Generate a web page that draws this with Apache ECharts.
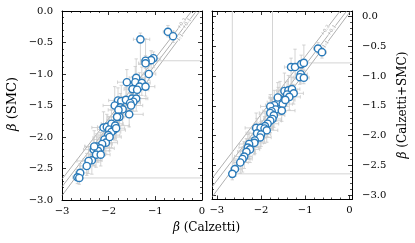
<!DOCTYPE html>
<html><head><meta charset="utf-8">
<script src="https://cdn.jsdelivr.net/npm/echarts@6/dist/echarts.min.js"></script>
<style>html,body{margin:0;padding:0;background:#fff}#c{width:415px;height:243px}</style>
</head><body><div id="c"></div>
<script>
// ---------- DATA ----------
// Left panel: beta (Calzetti) vs beta (SMC)
const smcBetaCalz = [-0.73,-0.62,-1.32,-1.04,-1.09,-1.21,-1.21,-1.14,-1.41,-1.61,-1.43,-1.29,-1.34,-1.21,-1.49,-1.39,-1.80,-1.73,-1.63,-1.50,-1.41,-1.47,-1.54,-1.87,-1.75,-1.70,-1.79,-1.77,-1.82,-1.56,-1.52,-2.11,-2.04,-1.94,-1.86,-1.99,-1.89,-1.94,-1.84,-2.01,-2.09,-2.06,-2.14,-2.26,-2.18,-2.32,-2.23,-2.27,-2.36,-2.43,-2.47,-2.61,-2.67,-2.63,-1.98,-2.31,-2.17];
const smcBeta     = [-0.33,-0.40,-0.45,-0.75,-0.78,-0.79,-0.83,-1.00,-1.06,-1.13,-1.13,-1.14,-1.20,-1.20,-1.24,-1.25,-1.42,-1.43,-1.41,-1.39,-1.39,-1.44,-1.46,-1.50,-1.53,-1.56,-1.57,-1.68,-1.68,-1.64,-1.50,-1.85,-1.84,-1.79,-1.82,-1.88,-1.89,-1.92,-1.86,-1.97,-2.04,-2.09,-2.11,-2.15,-2.18,-2.20,-2.22,-2.28,-2.37,-2.38,-2.46,-2.57,-2.64,-2.65,-2.00,-2.15,-2.28];
const smcXErrLo = [0.10,0.08,0.15,0.12,0.10,0.10,0.15,0.12,0.15,0.20,0.15,0.12,0.20,0.15,0.18,0.15,0.20,0.15,0.25,0.20,0.15,0.20,0.18,0.25,0.20,0.15,0.22,0.18,0.20,0.15,0.20,0.25,0.20,0.22,0.18,0.25,0.20,0.15,0.20,0.22,0.25,0.20,0.18,0.25,0.20,0.22,0.20,0.15,0.20,0.25,0.15,0.10,0.10,0.08,0.20,0.20,0.22];
const smcXErrHi = [0.12,0.10,0.20,0.15,0.12,1.50,0.10,0.15,0.18,0.15,0.20,0.18,0.15,0.20,0.15,0.25,0.15,0.20,0.20,0.30,0.25,0.15,0.22,0.15,0.25,0.20,0.18,0.25,0.15,0.30,0.25,0.20,0.22,0.25,0.30,0.20,0.25,0.20,0.18,0.25,0.20,0.25,0.22,0.20,0.30,0.18,0.25,0.20,0.22,0.20,0.18,0.15,0.12,3.00,0.25,0.22,0.20];
const smcYErrLo = [0.08,0.10,0.40,0.15,0.20,0.12,0.15,0.10,0.20,0.25,0.15,0.20,0.18,0.15,0.30,0.20,0.25,0.20,0.15,0.25,0.20,0.15,0.20,0.20,0.18,0.25,0.20,0.15,0.22,0.20,0.15,0.20,0.25,0.18,0.20,0.22,0.15,0.25,0.20,0.20,0.25,0.18,0.20,0.22,0.20,0.25,0.18,0.20,0.22,0.20,0.15,0.12,0.10,0.10,0.22,0.20,0.18];
const smcYErrHi = [0.10,0.08,0.10,0.10,0.15,0.35,0.12,0.15,0.30,0.20,0.25,0.25,0.22,0.20,0.20,0.15,0.20,0.25,0.20,0.15,0.18,0.25,0.15,0.30,0.22,0.20,0.15,0.25,0.18,0.15,0.20,0.25,0.20,0.22,0.15,0.20,0.25,0.18,0.22,0.25,0.20,0.22,0.25,0.20,0.25,0.20,0.22,0.18,0.25,0.22,0.20,0.15,0.12,0.10,0.18,0.25,0.22];

// Right panel: beta (Calzetti) vs beta (Calzetti+SMC)
const mixBetaCalz = [-0.71,-0.62,-1.32,-1.23,-1.09,-1.03,-1.10,-1.12,-1.03,-1.47,-1.38,-1.30,-1.26,-1.41,-1.36,-1.57,-1.61,-1.51,-1.70,-1.79,-1.67,-1.53,-1.76,-1.79,-1.71,-1.74,-1.79,-1.85,-1.91,-2.11,-2.01,-1.92,-1.87,-2.09,-2.00,-2.02,-2.14,-2.15,-2.27,-2.30,-2.25,-2.33,-2.38,-2.42,-2.47,-2.59,-2.65,-1.62,-1.45];
const mixBeta     = [-0.54,-0.60,-0.85,-0.85,-0.80,-0.78,-0.97,-1.02,-1.03,-1.25,-1.24,-1.22,-1.29,-1.31,-1.35,-1.39,-1.44,-1.47,-1.49,-1.51,-1.56,-1.58,-1.59,-1.62,-1.66,-1.72,-1.75,-1.80,-1.84,-1.87,-1.87,-1.88,-1.91,-1.96,-1.98,-2.03,-2.08,-2.12,-2.14,-2.20,-2.23,-2.27,-2.35,-2.39,-2.45,-2.56,-2.64,-1.36,-1.40];
const mixXErrLo = [0.10,0.08,0.15,0.12,0.10,0.10,0.12,0.15,0.10,0.18,0.15,0.12,0.15,0.20,0.15,0.20,0.25,0.18,0.20,0.22,0.15,0.18,0.20,0.25,0.18,0.20,0.22,0.20,0.25,0.25,0.20,0.22,0.18,0.25,0.20,0.22,0.20,0.25,0.22,0.20,0.18,0.20,0.22,0.20,0.15,0.10,0.08,0.20,0.18];
const mixXErrHi = [0.12,0.10,0.20,0.10,0.12,1.20,0.15,0.18,0.12,0.15,0.20,0.18,0.22,0.15,0.25,0.18,0.20,0.22,0.25,0.18,0.20,0.30,0.22,0.20,0.25,0.20,0.25,0.25,0.20,0.22,0.25,0.20,0.25,0.20,0.22,0.25,0.18,0.20,0.20,0.25,0.22,0.20,0.18,0.22,0.18,0.15,3.00,0.18,0.22];
const mixYErrLo = [0.08,0.10,0.30,0.20,0.20,0.12,0.15,0.12,0.10,0.25,0.20,0.15,0.18,0.20,0.22,0.25,0.20,0.15,0.22,0.25,0.20,0.18,0.22,0.18,0.20,0.18,0.20,0.22,0.20,0.22,0.20,0.25,0.20,0.22,0.20,0.18,0.22,0.20,0.25,0.20,0.22,0.18,0.20,0.22,0.18,0.12,0.10,0.20,0.20];
const mixYErrHi = [0.10,0.08,0.15,0.30,0.15,0.30,0.12,0.15,0.12,0.30,0.25,0.20,0.15,0.22,0.18,0.30,0.25,0.20,0.25,0.20,0.22,0.15,0.20,0.25,0.22,2.00,0.22,0.20,0.25,0.25,0.22,0.20,0.18,0.25,0.22,0.20,0.25,0.22,0.20,0.22,0.18,0.22,0.25,0.20,0.20,0.15,3.00,0.25,0.18];

// Reference lines (data endpoints) and their labels
const smcLineHi  = [[-3, -2.67], [-0.22, 0]];
const smcLineMid = [[-3, -2.79], [-0.12, 0]];
const smcLineOne = [[-3, -2.93], [-0.045, 0]];
const mixLineHi  = [[-3.11, -2.72], [-0.21, 0.09]];
const mixLineMid = [[-3.11, -2.86], [-0.06, 0.09]];
const mixLineOne = [[-3.11, -3.03], [0.03, 0.09]];
const lineLabels = ['+0.3', '+0.1', '1:1'];
const smcLabelPos = [[-0.43, -0.2], [-0.326, -0.2], [-0.469, -0.42]];
const mixLabelPos = [[-0.545, -0.235], [-0.396, -0.235], [-0.533, -0.47]];

// Axes
const xTicks = [-3, -2, -1, 0];
const yTicks = [0, -0.5, -1, -1.5, -2, -2.5, -3];
const smcXRange = [-3, 0], smcYRange = [-3, 0];
const mixXRange = [-3.11, 0.06], mixYRange = [-3.07, 0.09];

// ---------- CHART ----------
const FONT = '"DejaVu Serif", serif';
const BLUE = '#2a7ab9';
const ERR = '#c9c9c9';
const MINUS = '\u2212';

function minorList(range, step, per) {
  const out = [];
  const k0 = Math.ceil(range[0] / step - 1e-9), k1 = Math.floor(range[1] / step + 1e-9);
  for (let k = k0; k <= k1; k++) {
    if (k % per === 0) continue;
    out.push(Math.round(k * step * 100) / 100);
  }
  return out;
}
const fmtX = v => (Math.abs(v) < 1e-9 ? '0' : (v < 0 ? MINUS : '') + Math.abs(v).toString());
const fmtY = v => (Math.abs(v) < 1e-9 ? '0.0' : (v < 0 ? MINUS : '') + Math.abs(v).toFixed(1));

function axisSet(kind, gridIndex, range, majors, minors, labelSide, fmt, margin) {
  const dirs = kind === 'x' ? ['bottom', 'top'] : ['left', 'right'];
  const out = [];
  dirs.forEach(pos => {
    out.push({
      type: 'value', gridIndex, position: pos, min: range[0], max: range[1],
      axisLine: { show: true, onZero: false, lineStyle: { color: '#000', width: 1 } },
      axisTick: { show: true, inside: true, length: 4, customValues: majors, lineStyle: { color: '#000', width: 0.8 } },
      splitLine: { show: false },
      axisLabel: { show: pos === labelSide, customValues: majors, formatter: fmt, margin, color: '#000', fontFamily: FONT, fontSize: 10 },
      axisPointer: { show: false }
    });
    out.push({
      type: 'value', gridIndex, position: pos, min: range[0], max: range[1],
      axisLine: { show: false, onZero: false },
      axisTick: { show: true, inside: true, length: 2, customValues: minors, lineStyle: { color: '#000', width: 0.7 } },
      splitLine: { show: false },
      axisLabel: { show: false },
      axisPointer: { show: false }
    });
  });
  return out;
}

function errRender(params, api) {
  const x = api.value(0), y = api.value(1);
  const xl = api.value(2), xh = api.value(3), yl = api.value(4), yh = api.value(5);
  const cs = params.coordSys;
  const L = cs.x, R = cs.x + cs.width, T = cs.y, B = cs.y + cs.height;
  const c = api.coord([x, y]);
  const p1 = api.coord([x - xl, y]), p2 = api.coord([x + xh, y]);
  const q1 = api.coord([x, y - yl]), q2 = api.coord([x, y + yh]);
  const cx = v => Math.max(L, Math.min(R, v));
  const cy = v => Math.max(T, Math.min(B, v));
  const st = { stroke: ERR, lineWidth: 0.8 };
  const cap = 1.7;
  const ch = [];
  ch.push({ type: 'line', shape: { x1: cx(p1[0]), y1: c[1], x2: cx(p2[0]), y2: c[1] }, style: st });
  ch.push({ type: 'line', shape: { x1: c[0], y1: cy(q1[1]), x2: c[0], y2: cy(q2[1]) }, style: st });
  [p1, p2].forEach(p => {
    if (p[0] >= L && p[0] <= R) ch.push({ type: 'line', shape: { x1: p[0], y1: c[1] - cap, x2: p[0], y2: c[1] + cap }, style: st });
  });
  [q1, q2].forEach(q => {
    if (q[1] >= T && q[1] <= B) ch.push({ type: 'line', shape: { x1: c[0] - cap, y1: q[1], x2: c[0] + cap, y2: q[1] }, style: st });
  });
  return { type: 'group', children: ch };
}

function panelSeries(axisIdx, xs, ys, xlo, xhi, ylo, yhi, lines, labelPos) {
  const s = [];
  lines.forEach(l => s.push({
    type: 'line', xAxisIndex: axisIdx, yAxisIndex: axisIdx, data: l, symbol: 'none', silent: true,
    lineStyle: { color: '#8c8c8c', width: 0.7 }, z: 1, animation: false
  }));
  s.push({
    type: 'custom', xAxisIndex: axisIdx, yAxisIndex: axisIdx, renderItem: errRender, silent: true, z: 2,
    encode: { x: 0, y: 1 }, animation: false,
    data: xs.map((v, i) => [v, ys[i], xlo[i], xhi[i], ylo[i], yhi[i]])
  });
  s.push({
    type: 'scatter', xAxisIndex: axisIdx, yAxisIndex: axisIdx, z: 3, silent: true, animation: false,
    symbol: 'circle', symbolSize: 7.2,
    itemStyle: { color: '#fff', borderColor: BLUE, borderWidth: 1.4, opacity: 1 },
    data: xs.map((v, i) => [v, ys[i]])
  });
  s.push({
    type: 'scatter', xAxisIndex: axisIdx, yAxisIndex: axisIdx, z: 4, silent: true, animation: false,
    symbolSize: 1, itemStyle: { color: 'transparent' },
    data: labelPos.map((p, i) => ({ value: p, name: lineLabels[i] })),
    label: { show: true, position: 'inside', formatter: p => p.name, rotate: 53.5, fontSize: 5, color: '#8c8c8c',
             fontFamily: FONT, backgroundColor: '#fff', padding: 0 }
  });
  return s;
}

const xAxes = [].concat(
  axisSet('x', 0, smcXRange, xTicks, minorList(smcXRange, 0.2, 5), 'bottom', fmtX, 6),
  axisSet('x', 1, mixXRange, xTicks, minorList(mixXRange, 0.2, 5), 'bottom', fmtX, 6)
);
const yAxes = [].concat(
  axisSet('y', 0, smcYRange, yTicks, minorList(smcYRange, 0.1, 5), 'left', fmtY, 9),
  axisSet('y', 1, mixYRange, yTicks, minorList(mixYRange, 0.1, 5), 'right', fmtY, 10)
);

const option = {
  animation: false,
  backgroundColor: '#fff',
  textStyle: { fontFamily: FONT },
  grid: [
    { left: 62, top: 11, width: 140, height: 189 },
    { left: 212, top: 11, width: 140, height: 188.5 }
  ],
  xAxis: xAxes,
  yAxis: yAxes,
  series: [].concat(
    panelSeries(0, smcBetaCalz, smcBeta, smcXErrLo, smcXErrHi, smcYErrLo, smcYErrHi, [smcLineHi, smcLineMid, smcLineOne], smcLabelPos),
    panelSeries(4, mixBetaCalz, mixBeta, mixXErrLo, mixXErrHi, mixYErrLo, mixYErrHi, [mixLineHi, mixLineMid, mixLineOne], mixLabelPos)
  ),
  graphic: [
    { type: 'text', x: 13, y: 104, rotation: Math.PI / 2,
      style: { text: '{i|β} (SMC)', rich: { i: { fontStyle: 'italic', fontFamily: FONT, fontSize: 13 } }, font: '13px ' + FONT, fill: '#000', align: 'center', verticalAlign: 'middle' } },
    { type: 'text', x: 206.5, y: 228,
      style: { text: '{i|β} (Calzetti)', rich: { i: { fontStyle: 'italic', fontFamily: FONT, fontSize: 12 } }, font: '12px ' + FONT, fill: '#000', align: 'center', verticalAlign: 'middle' } },
    { type: 'text', x: 403, y: 105, rotation: Math.PI / 2,
      style: { text: '{i|β} (Calzetti+SMC)', rich: { i: { fontStyle: 'italic', fontFamily: FONT, fontSize: 12 } }, font: '12px ' + FONT, fill: '#000', align: 'center', verticalAlign: 'middle' } }
  ]
};

const chart = echarts.init(document.getElementById('c'), null, { renderer: 'canvas', width: 415, height: 243 });
chart.setOption(option);
</script>
</body></html>
